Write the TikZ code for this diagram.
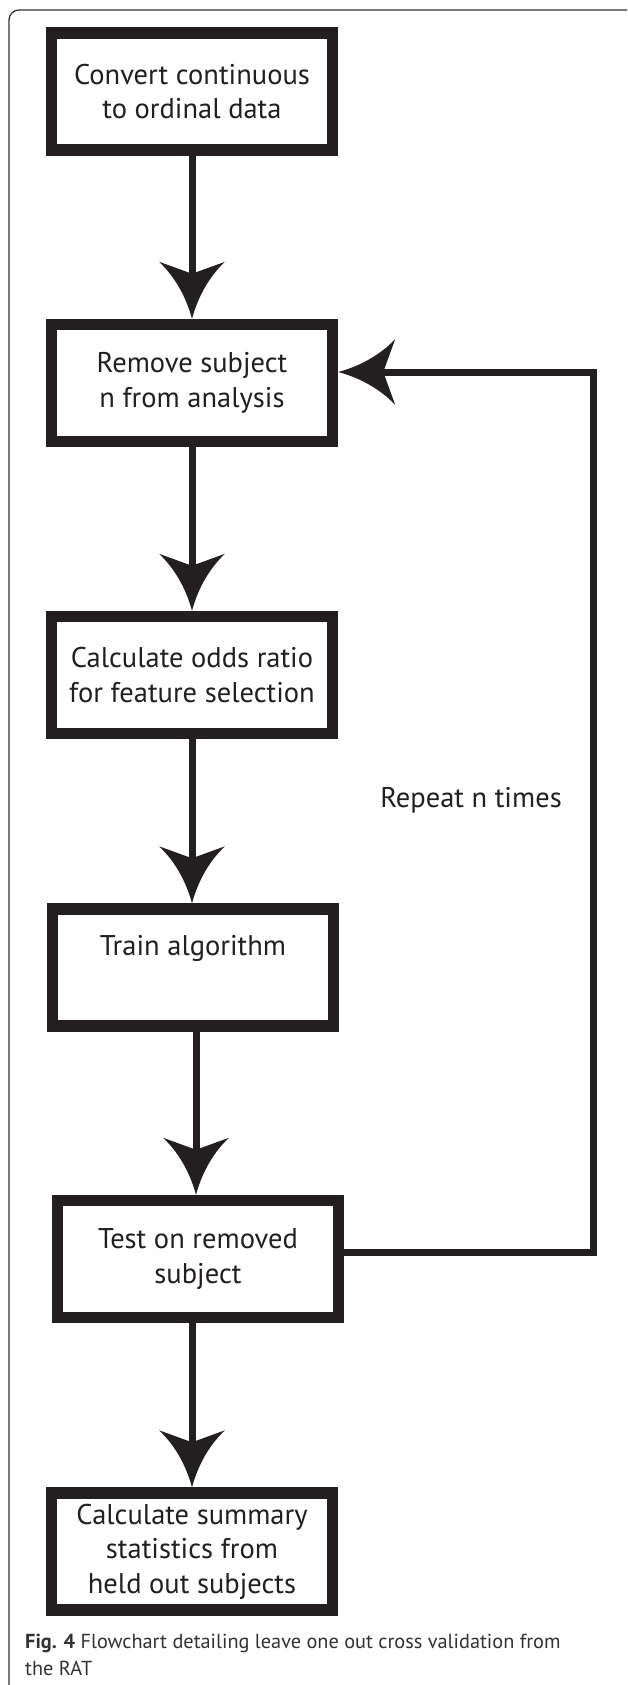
\documentclass[tikz,border=0pt]{standalone}
\usepackage{fontspec}
\setmainfont{PT Sans}
\usetikzlibrary{calc}
\definecolor{ink}{RGB}{35,31,32}
\definecolor{captext}{RGB}{50,50,50}
\pgfdeclarearrow{
  name = Fancy,
  setup code = {
    \pgfarrowssettipend{0pt}
    \pgfarrowssetlineend{-40pt}
    \pgfarrowssetvisualbackend{-57pt}
    \pgfarrowssetbackend{-57pt}
    \pgfarrowshullpoint{0pt}{0pt}
    \pgfarrowsupperhullpoint{-57pt}{33pt}
  },
  drawing code = {
    \pgfpathmoveto{\pgfpointorigin}
    \pgfpathcurveto{\pgfpoint{-22pt}{6pt}}{\pgfpoint{-42pt}{17pt}}{\pgfpoint{-57pt}{33pt}}
    \pgfpathlineto{\pgfpoint{-45pt}{0pt}}
    \pgfpathlineto{\pgfpoint{-57pt}{-33pt}}
    \pgfpathcurveto{\pgfpoint{-42pt}{-17pt}}{\pgfpoint{-22pt}{-6pt}}{\pgfpointorigin}
    \pgfpathclose
    \pgfusepathqfill
  }
}
\begin{document}
\begin{tikzpicture}[x=1pt,y=-1pt,
  box/.style={draw=ink, line width=11.5pt, minimum width=281pt, minimum height=117pt,
    inner sep=0pt, align=center, font=\fontsize{28.5}{34.5}\selectfont, text=ink},
  flow/.style={draw=ink, line width=7pt, -Fancy},
  frame/.style={draw=black!80, line width=1.3pt, rounded corners=10pt},
  label/.style={font=\fontsize{28.5}{34.5}\selectfont, text=ink},
  caption/.style={font=\fontsize{20.3}{27}\selectfont, text=captext, inner sep=0pt, anchor=base west}
]
\useasboundingbox (0,0) rectangle (627,1685);
\fill[white] (0,0) rectangle (627,1685);
\begin{scope}
  \clip (0,0) rectangle (627,1685);
  \draw[frame] (9,10) rectangle (637,1700);
\end{scope}

\node[box] (b1) at (192,91.5) {Convert continuous\\to ordinal data};
\node[box] (b2) at (192,383) {Remove subject\\n from analysis};
\node[box] (b3) at (192,675) {Calculate odds ratio\\for feature selection};
\node[box] (b4) at (193,967.5) {Train algorithm\\\strut};
\node[box] (b5) at (198,1259) {Test on removed\\subject};
\node[box] (b6) at (192,1551.5) {Calculate summary\\statistics from\\held out subjects};

\node[label] (rep) at (471,800) {Repeat n times};

\coordinate (rb) at (593,1252);
\coordinate (rt) at (593,372);

\draw[flow] (b1) -- (b2);
\draw[flow] (b2) -- (b3);
\draw[flow] (b3.south) -- (b4.north -| b3.south);
\draw[flow] ($(b4.south)+(3,0)$) -- ($(b5.north)+(-2,0)$);
\draw[flow] (b5.south -| b6.north) -- (b6.north);
\draw[flow] (rb -| b5.east) -- (rb) -- (rt) -- (rt -| b2.east);

\node[caption] (cap1) at (25,1648) {\textbf{Fig. 4} Flowchart detailing leave one out cross validation from};
\node[caption] (cap2) at (25,1675) {the RAT};
\end{tikzpicture}
\end{document}
